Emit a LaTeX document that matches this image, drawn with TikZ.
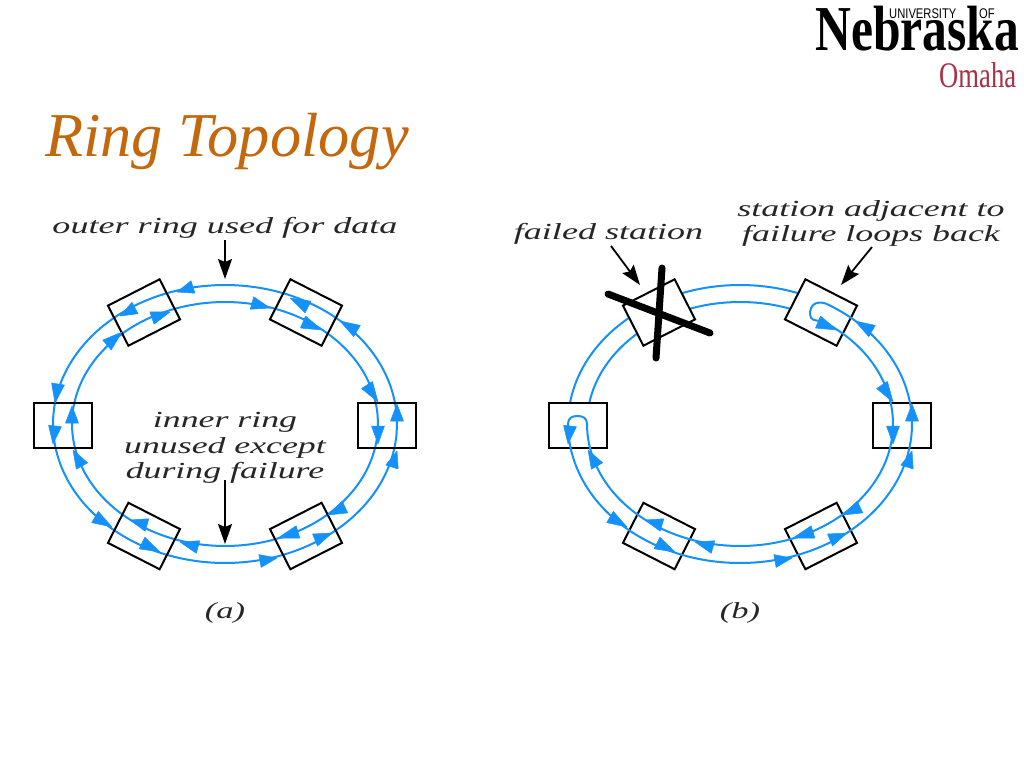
\documentclass[tikz,border=0pt]{standalone}
\usepackage{fontspec}
\usepackage{graphicx}
\setmainfont{Liberation Serif}
\newfontfamily\logosans{Liberation Sans}
\usetikzlibrary{arrows.meta,calc}
\definecolor{ringblue}{RGB}{20,145,250}
\definecolor{titleorange}{RGB}{196,104,14}
\definecolor{omahared}{RGB}{165,50,70}
\tikzset{
  station/.style={draw=black,line width=2pt,rectangle,inner sep=0pt,minimum width=58pt,minimum height=45pt},
  stationw/.style={station,fill=white},
  ringline/.style={draw=ringblue,line width=2pt},
  ringhead/.style={fill=ringblue,draw=ringblue,line width=0.5pt,line join=round},
  callout/.style={draw=black,line width=1.8pt,-{Stealth[length=20pt,width=14pt,inset=3pt]}},
  lbl/.style={inner sep=0pt,font=\fontsize{23}{26}\selectfont\itshape,text=black!85},
  cross/.style={draw=black,line width=7pt,line cap=round}
}
\newcommand\outerarc[2]{plot[smooth,domain=#1:#2,samples=70] ({225+172*cos(\x)},{424-139*sin(\x)})}
\newcommand\innerarc[2]{plot[smooth,domain=#1:#2,samples=70] ({225+153*cos(\x)},{424-122*sin(\x)})}
% arrowhead on the ring: base point, tip point
\newcommand\rh[2]{\fill[ringhead] #2 -- ($#1!6.5pt!90:#2$) -- ($#1!6.5pt!-90:#2$) -- cycle;}
\newcommand\sharedarrows{%
  \rh{(55,426)}{(53,444)}\rh{(95,517)}{(112,527)}\rh{(142,543)}{(160,552)}
  \rh{(260,561)}{(277,558)}\rh{(315,540)}{(332,533)}\rh{(392,467)}{(397,451)}
  \rh{(397,421)}{(397,404)}\rh{(357,331)}{(340,321)}
  \rh{(303,322)}{(322,330)}\rh{(367,385)}{(378,402)}\rh{(378,426)}{(378,444)}
  \rh{(345,507)}{(328,515)}\rh{(298,532)}{(278,538)}\rh{(198,547)}{(180,542)}
  \rh{(147,525)}{(130,520)}\rh{(82,466)}{(73,450)}
}
\begin{document}
\begin{tikzpicture}[x=1pt,y=-1pt]
\useasboundingbox (0,0) rectangle (1024,768);
\fill[white] (0,0) rectangle (1024,768);

% heading and logo
\node[anchor=base west,inner sep=0pt,text=titleorange,font=\fontsize{62.4}{62}\selectfont\itshape] (title) at (45,156) {Ring Topology};
\node[anchor=base west,inner sep=0pt,font=\fontsize{64}{64}\selectfont\bfseries] (nebraska) at (815,50) {\scalebox{0.775}[1]{Nebraska}};
\node[anchor=base west,inner sep=0pt,font=\fontsize{14}{14}\selectfont\logosans] (university) at (889,19) {\scalebox{0.8}[1]{UNIVERSITY}};
\node[anchor=base west,inner sep=0pt,font=\fontsize{14}{14}\selectfont\logosans] (of) at (979,19) {\scalebox{0.8}[1]{OF}};
\node[anchor=base west,inner sep=0pt,text=omahared,font=\fontsize{36}{36}\selectfont] (omaha) at (939,87) {\scalebox{0.74}[1]{Omaha}};

% ---------- panel (a) ----------
\draw[ringline] \outerarc{0}{360} -- cycle;
\draw[ringline] \innerarc{0}{360} -- cycle;
\node[station,rotate=27] (aTL) at (144,312.5) {};
\node[station,rotate=-27] (aTR) at (306,312.5) {};
\node[station] (aL) at (63,425) {};
\node[station] (aR) at (387,425) {};
\node[station,rotate=-27] (aBL) at (144,536) {};
\node[station,rotate=27] (aBR) at (306,536) {};
\sharedarrows
\rh{(193,287)}{(177,292)}\rh{(135,308)}{(120,316)}\rh{(58,384)}{(55,403)}
\rh{(308,307)}{(290,298)}\rh{(252,303)}{(270,308)}\rh{(72,423)}{(72,406)}
\rh{(107,345)}{(122,332)}\rh{(152,318)}{(170,312)}
\node[lbl] (outerlbl) at (225,228) {\scalebox{1.57}[1]{outer ring used for data}};
\node[lbl] (innerlbl) at (225,448) {\scalebox{1.555}[1]{\begin{tabular}{@{}c@{}}inner ring\\[-0.5pt]unused except\\[-0.5pt]during failure\end{tabular}}};
\node[lbl] (alabel) at (225,613) {\scalebox{1.5}[1]{(a)}};
\coordinate (outerfrom) at (225,240);
\coordinate (outertip) at (225,279);
\coordinate (innerfrom) at (225,480);
\coordinate (innertip) at (225,544);
\draw[callout] (outerfrom) -- (outertip);
\draw[callout] (innerfrom) -- (innertip);

% ---------- panel (b) ----------
\begin{scope}[xshift=515pt]
\draw[ringline] \outerarc{70}{172};
\draw[ringline] \innerarc{70}{172};
\node[stationw,rotate=27] (bF) at (144,312.5) {};
\node[stationw,rotate=-27] (bTR) at (306,312.5) {};
\node[stationw] (bL) at (63,425) {};
\node[station] (bR) at (387,425) {};
\node[station,rotate=-27] (bBL) at (144,536) {};
\node[station,rotate=27] (bBR) at (306,536) {};
% the ring, doubled back at the stations next to the failure
\draw[ringline] \outerarc{60}{-180} .. controls (53,418) and (57,416) .. (62.5,416) .. controls (68,416) and (72,418) .. (72,424);
\draw[ringline] \innerarc{-180}{58} .. controls (300,321) and (295,320) .. (295,314) .. controls (295,306) and (300,300) .. (311,303.6);
\sharedarrows
\coordinate (x1a) at (93,294);
\coordinate (x1b) at (195,333);
\coordinate (x2a) at (147,268);
\coordinate (x2b) at (141,358);
\draw[cross] (x1a) -- (x1b);
\draw[cross] (x2a) -- (x2b);
\end{scope}
\node[lbl] (faillbl) at (608.5,234) {\scalebox{1.566}[1]{failed station}};
\node[lbl] (adjlbl) at (871,223.5) {\scalebox{1.56}[1]{\begin{tabular}{@{}c@{}}station adjacent to\\[-1pt]failure loops back\end{tabular}}};
\node[lbl] (blabel) at (740,613) {\scalebox{1.5}[1]{(b)}};
\coordinate (failfrom) at (611,246);
\coordinate (failtip) at (640,285);
\coordinate (adjfrom) at (872,247);
\coordinate (adjtip) at (841,285);
\draw[callout] (failfrom) -- (failtip);
\draw[callout] (adjfrom) -- (adjtip);
\end{tikzpicture}
\end{document}
